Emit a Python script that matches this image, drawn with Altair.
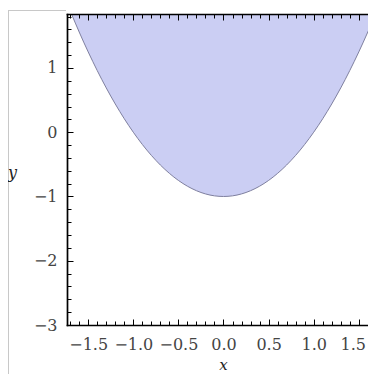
import altair as alt
import pandas as pd

# values: boundary of the shaded region (lower edge)
x_vals = [-1.685, -1.6, -1.5, -1.4, -1.3, -1.2, -1.1, -1.0, -0.9, -0.8, -0.7, -0.6,
          -0.5, -0.4, -0.3, -0.2, -0.1, 0.0, 0.1, 0.2, 0.3, 0.4, 0.5, 0.6, 0.7,
          0.8, 0.9, 1.0, 1.1, 1.2, 1.3, 1.4, 1.5, 1.6, 1.685]
y_vals = [1.84, 1.56, 1.25, 0.96, 0.69, 0.44, 0.21, 0.0, -0.19, -0.36, -0.51, -0.64,
          -0.75, -0.84, -0.91, -0.96, -0.99, -1.0, -0.99, -0.96, -0.91, -0.84, -0.75,
          -0.64, -0.51, -0.36, -0.19, 0.0, 0.21, 0.44, 0.69, 0.96, 1.25, 1.56, 1.84]
y_top = 1.84

# visible window (the right edge of the original frame is cut off)
x_domain = [-1.735, 1.602]
y_domain = [-3.0, 1.84]

x_major = [-1.5, -1.0, -0.5, 0.0, 0.5, 1.0, 1.5]
x_minor = [-1.7, -1.6, -1.5, -1.4, -1.3, -1.2, -1.1, -1.0, -0.9, -0.8, -0.7, -0.6,
           -0.5, -0.4, -0.3, -0.2, -0.1, 0.0, 0.1, 0.2, 0.3, 0.4, 0.5, 0.6, 0.7,
           0.8, 0.9, 1.0, 1.1, 1.2, 1.3, 1.4, 1.5, 1.6]
y_major = [-3, -2, -1, 0, 1]
y_minor = [-3.0, -2.8, -2.6, -2.4, -2.2, -2.0, -1.8, -1.6, -1.4, -1.2, -1.0, -0.8,
           -0.6, -0.4, -0.2, 0.0, 0.2, 0.4, 0.6, 0.8, 1.0, 1.2, 1.4, 1.6, 1.8]

df = pd.DataFrame({"x": x_vals, "y": y_vals})

FONT = "DejaVu Serif"
FRAME_W = 1.7
W, H = 301, 311
PAD = {"left": 59, "top": 6, "right": 0, "bottom": 49}

xs = alt.Scale(domain=x_domain, nice=False, zero=False)
ys = alt.Scale(domain=y_domain, nice=False, zero=False)


def tick_axis(orient, values, size):
    return alt.Axis(orient=orient, values=values, labels=False, domain=False,
                    ticks=True, tickSize=size, tickColor="black", tickWidth=1,
                    offset=-size, title=None, grid=False, zindex=2)


def frame_axis(orient):
    return alt.Axis(orient=orient, labels=False, ticks=False, domain=True,
                    domainColor="black", domainWidth=FRAME_W, domainCap="square",
                    title=None, grid=False, zindex=2)


x_label_axis = alt.Axis(orient="bottom", values=x_major, format=".1f", ticks=False,
                        tickSize=0, domain=True, domainColor="black",
                        domainWidth=FRAME_W, domainCap="square", grid=False,
                        labelFont=FONT, labelFontSize=16, labelColor="#444444",
                        labelPadding=11, labelFlush=False, labelOverlap=False,
                        labelOffset={"condition": {"test": "datum.value > 1.4",
                                                   "value": -6},
                                     "value": 0},
                        title="x", titleFont=FONT, titleFontSize=15,
                        titleFontStyle="italic", titleFontWeight="normal",
                        titleColor="#222222", titleBaseline="alphabetic",
                        titleAlign="center", titleX=156, titleY=44, zindex=2)
y_label_axis = alt.Axis(orient="left", values=y_major, format="d", ticks=False,
                        tickSize=0, domain=True, domainColor="black",
                        domainWidth=FRAME_W, domainCap="square", grid=False,
                        labelFont=FONT, labelFontSize=16, labelColor="#444444",
                        labelPadding=10, labelFlush=False, labelOverlap=False,
                        title="y", titleFont=FONT, titleFontSize=16,
                        titleFontStyle="italic", titleFontWeight="normal",
                        titleColor="#222222", titleAngle=0, titleAlign="center",
                        titleBaseline="alphabetic", titleX=-55, titleY=163, zindex=2)

base = alt.Chart(df)

fill = base.mark_area(color="#CBCEF3", interpolate="monotone", clip=True).encode(
    x=alt.X("x:Q", scale=xs, axis=x_label_axis),
    y=alt.Y("y:Q", scale=ys, axis=y_label_axis),
    y2=alt.datum(y_top),
)

edge = base.mark_line(color="#7f809f", strokeWidth=1, interpolate="monotone",
                      clip=True).encode(
    x=alt.X("x:Q", scale=xs, axis=tick_axis("bottom", x_major, 6)),
    y=alt.Y("y:Q", scale=ys, axis=tick_axis("left", y_major, 6)),
)

ghost = dict(strokeOpacity=0, opacity=0, clip=True)

minor_bl = base.mark_line(**ghost).encode(
    x=alt.X("x:Q", scale=xs, axis=tick_axis("bottom", x_minor, 4)),
    y=alt.Y("y:Q", scale=ys, axis=tick_axis("left", y_minor, 4)),
)
top_major = base.mark_line(**ghost).encode(
    x=alt.X("x:Q", scale=xs, axis=tick_axis("top", x_major, 6)),
    y=alt.Y("y:Q", scale=ys, axis=None),
)
top_minor = base.mark_line(**ghost).encode(
    x=alt.X("x:Q", scale=xs, axis=tick_axis("top", x_minor, 4)),
    y=alt.Y("y:Q", scale=ys, axis=None),
)
top_frame = base.mark_line(**ghost).encode(
    x=alt.X("x:Q", scale=xs, axis=frame_axis("top")),
    y=alt.Y("y:Q", scale=ys, axis=None),
)

one = alt.Chart(pd.DataFrame({"k": [0]}))
border_v = one.mark_rule(color="#c8c8c8", strokeWidth=1).encode(
    x=alt.value(-58.5), y=alt.value(-4), y2=alt.value(H + PAD["bottom"]))
border_h = one.mark_rule(color="#c8c8c8", strokeWidth=1).encode(
    x=alt.value(-59), x2=alt.value(-1), y=alt.value(-3.5))

chart = alt.layer(fill, edge, minor_bl, top_major, top_minor, top_frame,
                  border_v, border_h).resolve_axis(
    x="independent", y="independent"
).properties(
    width=W, height=H, autosize="none", padding=PAD, background="white",
).configure_view(stroke="transparent")

chart.save("out.html", embed_options={"renderer": "svg", "actions": False})
